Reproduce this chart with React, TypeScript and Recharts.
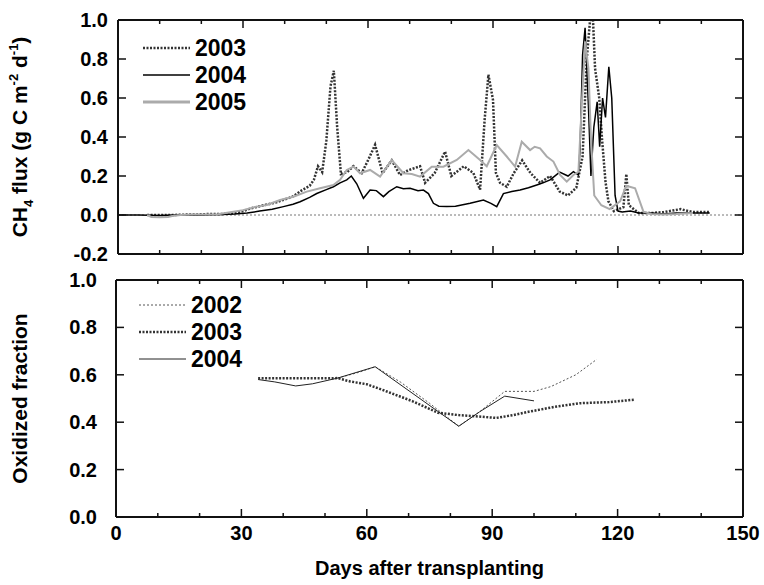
import { Legend, Line, LineChart, ReferenceLine, XAxis, YAxis } from 'recharts';

type Pt = [number, number];

// CH4 flux, g C m-2 d-1, by day after transplanting
const flux2003: Pt[] = [
  [7, 0], [10, 0], [13, 0], [16, 0.002], [19, 0.003], [22, 0.005], [25, 0.005], [28, 0.01],
  [30, 0.02], [32, 0.035], [34, 0.045], [36, 0.055], [38, 0.065], [40, 0.08], [42, 0.095],
  [44, 0.125], [46, 0.15], [47, 0.18], [48, 0.25], [49, 0.22], [50, 0.38], [51, 0.66],
  [51.8, 0.74], [52.6, 0.45], [53.5, 0.21], [55, 0.22], [56.5, 0.25], [58.5, 0.215], [60, 0.28],
  [61.7, 0.36], [63.5, 0.215], [65.7, 0.28], [67.7, 0.205], [69.7, 0.23], [72.5, 0.25],
  [73.7, 0.165], [76, 0.215], [78.5, 0.325], [80, 0.2], [83, 0.25], [85.3, 0.215], [86.9, 0.13],
  [88, 0.49], [88.9, 0.72], [90, 0.59], [90.7, 0.215], [91.7, 0.165], [93.3, 0.145], [95, 0.215],
  [97, 0.28], [99, 0.215], [101.3, 0.165], [103.7, 0.2], [106, 0.12], [108, 0.1], [110, 0.14],
  [111.5, 0.3], [112.5, 0.8], [113.3, 1.0], [114, 1.0], [114.5, 0.75], [115.5, 0.6], [116.2, 0.38],
  [117, 0.17], [117.7, 0.07], [119, 0.02], [121.3, 0.04], [122, 0.21], [122.6, 0.05], [125, 0.01],
  [128, 0.01], [131, 0.015], [135, 0.03], [138, 0.015], [142, 0.015],
];

const flux2004: Pt[] = [
  [0, 0], [5, 0], [10, -0.003], [15, 0], [20, 0], [25, 0.002], [28, 0.005], [31, 0.01],
  [34, 0.02], [37, 0.03], [39.7, 0.043], [42, 0.055], [43.7, 0.068], [46, 0.09], [47.7, 0.11],
  [50, 0.13], [51.7, 0.145], [53.3, 0.165], [54.9, 0.18], [56, 0.2], [57.3, 0.16], [58.9, 0.086],
  [60.5, 0.128], [62, 0.125], [63.7, 0.094], [65, 0.12], [66.9, 0.145], [68.5, 0.135],
  [70.1, 0.137], [72, 0.125], [73.3, 0.128], [74.5, 0.11], [75.7, 0.06], [77, 0.045],
  [78.9, 0.043], [81, 0.045], [84.5, 0.06], [87.7, 0.077], [89.5, 0.06], [90.9, 0.043],
  [92.5, 0.11], [94.5, 0.12], [96.5, 0.128], [98.5, 0.14], [100.5, 0.154], [102, 0.165],
  [103.7, 0.18], [106, 0.22], [108, 0.2], [109.3, 0.222], [110.5, 0.205], [110.9, 0.342],
  [111.5, 0.82], [112.1, 0.96], [112.9, 0.56], [113.5, 0.2], [114.2, 0.45], [115, 0.58],
  [115.6, 0.35], [116.3, 0.6], [117, 0.5], [117.8, 0.76], [118.5, 0.6], [119.3, 0.1], [120, 0.02],
  [121, 0.015], [123, 0.02], [125, 0.01], [128, 0.01], [131, 0.005], [134, 0.01], [137, 0.01],
  [142, 0.01],
];

const flux2005: Pt[] = [
  [7, 0], [8, -0.01], [10, -0.012], [12, -0.01], [13, -0.005], [15, 0], [18, 0.002], [21, 0.003],
  [24, 0.004], [27.7, 0.017], [30, 0.025], [33.3, 0.043], [35.7, 0.051], [38.9, 0.077],
  [42.1, 0.094], [45.3, 0.12], [48.5, 0.137], [51.7, 0.154], [53.3, 0.18], [54.9, 0.231],
  [56.5, 0.248], [58.1, 0.214], [60.5, 0.231], [62.9, 0.197], [65.7, 0.282], [68.5, 0.214],
  [70.5, 0.21], [72.5, 0.197], [75.3, 0.248], [78.1, 0.248], [81.3, 0.282], [84.1, 0.333],
  [86.9, 0.282], [88.5, 0.25], [90.9, 0.359], [93.3, 0.3], [95.3, 0.248], [96.9, 0.376],
  [98.9, 0.333], [100, 0.35], [101.3, 0.342], [102.9, 0.3], [104.5, 0.274], [106.1, 0.205],
  [107.7, 0.171], [109.3, 0.205], [110.5, 0.222], [111.3, 0.564], [112.1, 0.89], [112.9, 0.753],
  [113.5, 0.4], [114.3, 0.1], [116, 0.05], [118, 0.03], [120.5, 0.07], [122, 0.15], [124.1, 0.137],
  [126.1, 0.017], [128, 0.005], [131, 0.003], [134, 0.005], [138, 0.01],
];

// oxidized fraction
const ox2002: Pt[] = [
  [53, 0.586], [58, 0.61], [62, 0.634], [68, 0.57], [75, 0.48], [82, 0.383], [87, 0.444],
  [93, 0.53], [100, 0.53], [104, 0.55], [110, 0.6], [115, 0.665],
];

const ox2003: Pt[] = [
  [34, 0.585], [53, 0.586], [56, 0.572], [60, 0.56], [64, 0.535], [71, 0.488], [77, 0.44],
  [82, 0.43], [86, 0.425], [91, 0.418], [95, 0.43], [99, 0.445], [105, 0.465], [111, 0.48],
  [118, 0.485], [124, 0.495],
];

const ox2004: Pt[] = [
  [34, 0.58], [38, 0.57], [43, 0.553], [47, 0.562], [51, 0.578], [53, 0.586], [62, 0.634],
  [82, 0.383], [87, 0.444], [93, 0.51], [100, 0.49],
];

const dayTicks = [0, 30, 60, 90, 120, 150];
const dayMinorTicks = [10, 20, 40, 50, 70, 80, 100, 110, 130, 140];
const fluxTicks = [-0.2, 0, 0.2, 0.4, 0.6, 0.8, 1.0];
const oxTicks = [0, 0.2, 0.4, 0.6, 0.8, 1.0];

const FONT = '"Liberation Sans", Arial, sans-serif';
const INK = '#111';

const rows = (pts: Pt[]) => pts.map(([day, v]) => ({ day, v }));

interface Series {
  name: string;
  data: Pt[];
  stroke: string;
  width: number;
  dash?: string;
}

const topSeries: Series[] = [
  { name: '2003', data: flux2003, stroke: '#333', width: 2.5, dash: '2 1.5' },
  { name: '2004', data: flux2004, stroke: '#000', width: 1.5 },
  { name: '2005', data: flux2005, stroke: '#ababab', width: 2 },
];

const bottomSeries: Series[] = [
  { name: '2002', data: ox2002, stroke: '#555', width: 1, dash: '2 2' },
  { name: '2003', data: ox2003, stroke: '#333', width: 2.5, dash: '2 1.5' },
  { name: '2004', data: ox2004, stroke: '#222', width: 1 },
];

const axisLine = { stroke: INK, strokeWidth: 2 };

// ticks point into the plot; dx/dy give the inward direction
function inTick(len: number, dx: number, dy: number, label?: { ox: number; oy: number; anchor: string }) {
  return (p: any) => {
    const { x, y, payload } = p;
    return (
      <g>
        <line x1={x} y1={y} x2={x + dx * len} y2={y + dy * len} stroke={INK} strokeWidth={1.5} />
        {label && (
          <text
            x={x + label.ox}
            y={y + label.oy}
            textAnchor={label.anchor}
            dominantBaseline="central"
            fontSize={20}
            fontWeight="bold"
            fontFamily={FONT}
            fill="#000"
          >
            {label.anchor === 'middle' ? String(payload.value) : Number(payload.value).toFixed(1)}
          </text>
        )}
      </g>
    );
  };
}

function LegendBox({ items }: { items: Series[] }) {
  return (
    <svg width={130} height={86}>
      {items.map((s, i) => (
        <g key={s.name}>
          <line
            x1={3}
            x2={50}
            y1={13 + i * 27}
            y2={13 + i * 27}
            stroke={s.stroke}
            strokeWidth={s.name === '2005' ? 3 : s.width}
            strokeDasharray={s.dash}
          />
          <text
            x={55}
            y={13 + i * 27}
            dominantBaseline="central"
            fontSize={23}
            fontWeight="bold"
            fontFamily={FONT}
          >
            {s.name}
          </text>
        </g>
      ))}
    </svg>
  );
}

function FluxLabel(props: any) {
  const vb = props.viewBox || { y: 0, height: 0 };
  const cy = vb.y + vb.height / 2;
  return (
    <text
      transform={`translate(27, ${cy}) rotate(-90)`}
      textAnchor="middle"
      fontSize={21}
      fontWeight="bold"
      fontFamily={FONT}
    >
      CH
      <tspan fontSize={13} dy={6}>4</tspan>
      <tspan dy={-6}> flux (g C m</tspan>
      <tspan fontSize={13} dy={-9}>-2</tspan>
      <tspan dy={9}> d</tspan>
      <tspan fontSize={13} dy={-9}>-1</tspan>
      <tspan dy={9}>)</tspan>
    </text>
  );
}

function OxLabel(props: any) {
  const vb = props.viewBox || { y: 0, height: 0 };
  const cy = vb.y + vb.height / 2;
  return (
    <text
      transform={`translate(27, ${cy}) rotate(-90)`}
      textAnchor="middle"
      fontSize={21}
      fontWeight="bold"
      fontFamily={FONT}
    >
      Oxidized fraction
    </text>
  );
}

function DaysLabel(props: any) {
  const vb = props.viewBox || { x: 0, y: 0, width: 0 };
  return (
    <text
      x={vb.x + vb.width / 2}
      y={vb.y + 51}
      textAnchor="middle"
      dominantBaseline="central"
      fontSize={20}
      fontWeight="bold"
      fontFamily={FONT}
    >
      Days after transplanting
    </text>
  );
}

const xCommon = {
  type: 'number' as const,
  dataKey: 'day',
  domain: [0, 150],
  allowDataOverflow: true,
  height: 1,
  tickSize: 0,
  tickMargin: 0,
  tickLine: false,
  interval: 0 as const,
};

function frameAxes(showDays: boolean) {
  return [
    <XAxis
      key="b"
      xAxisId="b"
      {...xCommon}
      ticks={dayTicks}
      tick={inTick(8, 0, -1, showDays ? { ox: 0, oy: 16, anchor: 'middle' } : undefined)}
      axisLine={axisLine}
      label={showDays ? <DaysLabel /> : undefined}
    />,
    <XAxis key="bm" xAxisId="bm" {...xCommon} ticks={dayMinorTicks} tick={inTick(5, 0, -1)} axisLine={false} />,
    <XAxis
      key="t"
      xAxisId="t"
      orientation="top"
      {...xCommon}
      ticks={dayTicks}
      tick={inTick(8, 0, 1)}
      axisLine={axisLine}
    />,
    <XAxis
      key="tm"
      xAxisId="tm"
      orientation="top"
      {...xCommon}
      ticks={dayMinorTicks}
      tick={inTick(5, 0, 1)}
      axisLine={false}
    />,
  ];
}

function valueAxes(domain: number[], ticks: number[], gap: number, label: any) {
  return [
    <YAxis
      key="l"
      yAxisId="l"
      type="number"
      domain={domain}
      allowDataOverflow
      ticks={ticks}
      width={1}
      tickSize={0}
      tickMargin={0}
      tickLine={false}
      interval={0}
      tick={inTick(8, 1, 0, { ox: -gap, oy: 0, anchor: 'end' })}
      axisLine={axisLine}
      label={label}
    />,
    <YAxis
      key="r"
      yAxisId="r"
      orientation="right"
      type="number"
      domain={domain}
      allowDataOverflow
      ticks={ticks}
      width={1}
      tickSize={0}
      tickMargin={0}
      tickLine={false}
      interval={0}
      tick={inTick(8, -1, 0)}
      axisLine={axisLine}
    />,
  ];
}

function seriesLines(list: Series[]) {
  return list.map((s) => (
    <Line
      key={s.name}
      xAxisId="b"
      yAxisId="l"
      data={rows(s.data)}
      dataKey="v"
      name={s.name}
      type="linear"
      stroke={s.stroke}
      strokeWidth={s.width}
      strokeDasharray={s.dash}
      dot={false}
      activeDot={false}
      isAnimationActive={false}
    />
  ));
}

export default function App() {
  return (
    <div style={{ position: 'absolute', left: 0, top: 0, width: 764, height: 585, background: '#fff' }}>
      <div style={{ position: 'absolute', left: 0, top: 262, width: 764, height: 323 }}>
        <LineChart width={764} height={323} margin={{ top: 16, right: 20, bottom: 66, left: 115 }}>
          {frameAxes(true)}
          {valueAxes([0, 1], oxTicks, 19, <OxLabel />)}
          {seriesLines(bottomSeries)}
          <Legend
            layout="vertical"
            align="center"
            verticalAlign="middle"
            wrapperStyle={{ left: 136, top: 30, width: 130, height: 86 }}
            content={() => <LegendBox items={bottomSeries} />}
          />
        </LineChart>
      </div>
      <div style={{ position: 'absolute', left: 0, top: 0, width: 764, height: 272 }}>
        <LineChart width={764} height={272} margin={{ top: 18, right: 20, bottom: 16, left: 117 }}>
          {frameAxes(false)}
          {valueAxes([-0.2, 1], fluxTicks, 10, <FluxLabel />)}
          <ReferenceLine xAxisId="b" yAxisId="l" y={0} stroke="#777" strokeWidth={1} strokeDasharray="2 2" />
          {seriesLines(topSeries)}
          <Legend
            layout="vertical"
            align="center"
            verticalAlign="middle"
            wrapperStyle={{ left: 140, top: 35, width: 130, height: 86 }}
            content={() => <LegendBox items={topSeries} />}
          />
        </LineChart>
      </div>
    </div>
  );
}
